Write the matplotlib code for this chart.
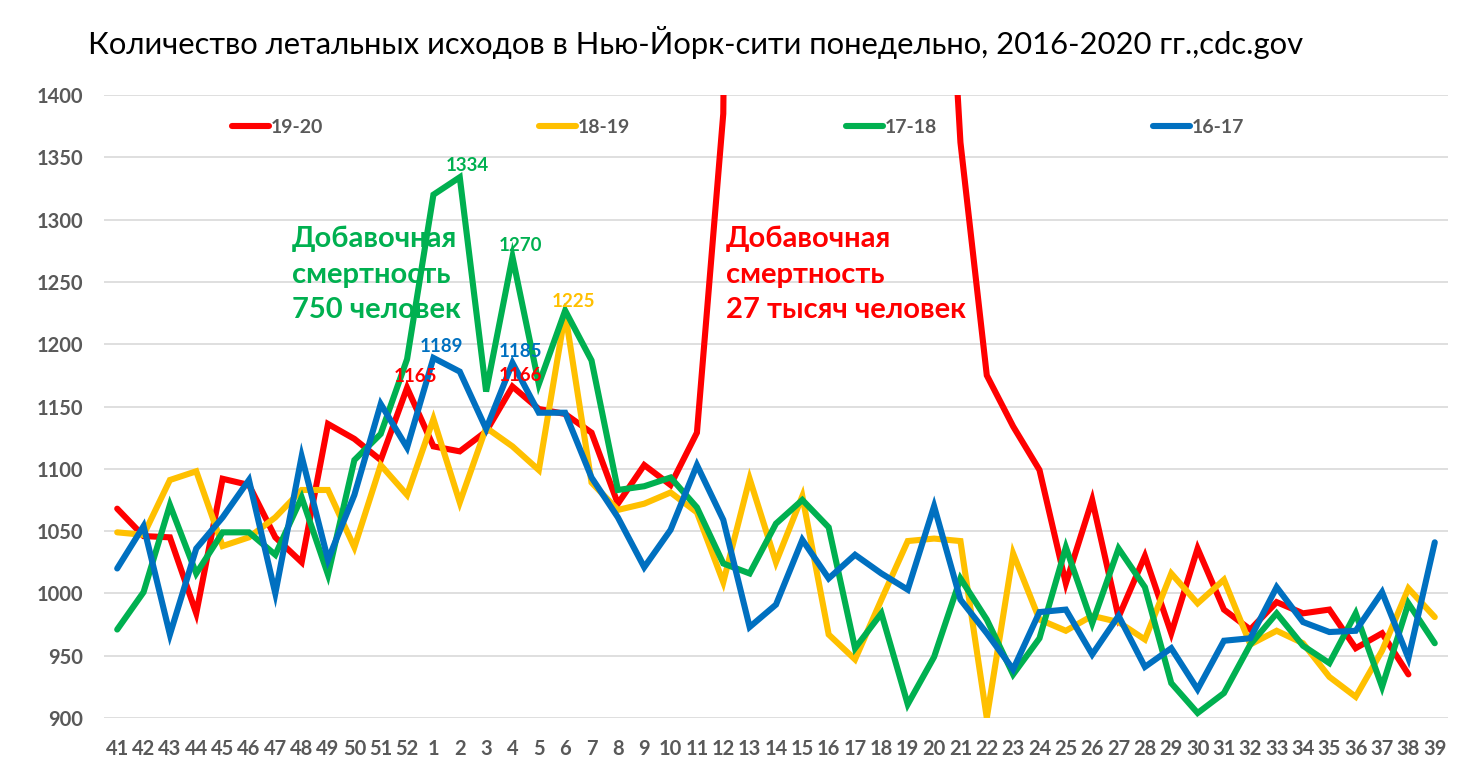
import numpy as np
import matplotlib.pyplot as plt

plt.rcParams['font.family'] = ['Lato', 'DejaVu Sans']

# недели: 41-52, затем 1-39
weeks = [str(w) for w in range(41, 53)] + [str(w) for w in range(1, 40)]

s1920 = [1068, 1046, 1045, 984, 1092, 1087, 1045, 1025, 1136, 1124, 1107, 1165,
         1118, 1114, 1130, 1166, 1148, 1144, 1129, 1072, 1103, 1087, 1129, 1385,
         3500, 7000, 7800, 6000, 4000, 2700, 2100, 1725, 1362, 1175, 1134, 1099,
         1008, 1075, 981, 1030, 968, 1036, 987, 971, 993, 984, 987, 956, 968, 935,
         np.nan]
s1819 = [1049, 1047, 1091, 1098, 1038, 1045, 1061, 1083, 1083, 1037, 1103, 1079,
         1140, 1073, 1133, 1118, 1099, 1225, 1089, 1067, 1072, 1081, 1065, 1009,
         1092, 1025, 1078, 967, 947, 995, 1042, 1044, 1042, 900, 1032, 979,
         970, 982, 977, 963, 1016, 992, 1011, 959, 970, 960, 933, 917, 954, 1004,
         981]
s1718 = [971, 1001, 1071, 1016, 1049, 1049, 1031, 1077, 1015, 1107, 1128, 1188,
         1320, 1334, 1162, 1270, 1168, 1227, 1187, 1083, 1086, 1093, 1069, 1024,
         1016, 1056, 1075, 1053, 956, 984, 911, 949, 1012, 979, 935, 964,
         1037, 976, 1036, 1005, 928, 904, 920, 959, 984, 958, 944, 984, 925, 992,
         960]
s1617 = [1020, 1054, 967, 1036, 1061, 1091, 1000, 1110, 1027, 1079, 1152, 1117,
         1189, 1178, 1132, 1185, 1145, 1145, 1093, 1061, 1021, 1051, 1103, 1059,
         973, 991, 1043, 1012, 1031, 1016, 1003, 1070, 995, 968, 939, 985,
         987, 951, 982, 941, 956, 923, 962, 964, 1005, 977, 969, 970, 1001, 948,
         1041]

series = [('19-20', s1920, '#FF0000'),
          ('18-19', s1819, '#FFC000'),
          ('17-18', s1718, '#00B050'),
          ('16-17', s1617, '#0070C0')]

# подписи значений: (серия, индекс недели)
point_labels = [(0, 11), (0, 15), (1, 17), (2, 13), (2, 15), (3, 12), (3, 15)]

fig = plt.figure(figsize=(14.84, 7.84), dpi=100)
ax = fig.add_axes([0.0701, 0.0842, 0.9056, 0.7946])

x = np.arange(len(weeks))
for name, vals, col in series:
    ax.plot(x, vals, color=col, lw=4.4, label=name, solid_capstyle='round',
            solid_joinstyle='miter')

for si, i in point_labels:
    name, vals, col = series[si]
    ax.annotate(str(vals[i]), (x[i], vals[i]), xytext=(8, 3),
                textcoords='offset pixels', ha='center', va='bottom',
                color=col, fontsize=13.5, fontweight='bold')

ax.set_xlim(-0.5, len(weeks) - 0.5)
ax.set_ylim(900, 1400)
ax.set_yticks(np.arange(900, 1401, 50))
ax.set_xticks(x)
ax.set_xticklabels(weeks)
ax.tick_params(axis='both', length=0, colors='#595959', labelsize=14.5)
ax.tick_params(axis='y', pad=15)
ax.tick_params(axis='x', pad=15)
for t in ax.get_xticklabels() + ax.get_yticklabels():
    t.set_fontweight('bold')
ax.grid(axis='y', color='#D9D9D9', lw=1.2)
ax.set_axisbelow(True)
for s in ax.spines.values():
    s.set_visible(False)

leg = ax.legend(loc='upper left', bbox_to_anchor=(0.0823, 0.99), ncol=4,
                frameon=False, handlelength=1.9, handletextpad=0.1,
                columnspacing=11.1, prop={'weight': 'bold', 'size': 14})
for t in leg.get_texts():
    t.set_color('#595959')

ax.text(6.63, 1256, 'Добавочная\nсмертность\n750 человек', color='#00B050',
        fontsize=21, fontweight='bold', va='center', ha='left', linespacing=1.45)
ax.text(23.1, 1256, 'Добавочная\nсмертность\n27 тысяч человек', color='#FF0000',
        fontsize=21, fontweight='bold', va='center', ha='left', linespacing=1.45)

fig.text(0.059, 0.946, 'Количество летальных исходов в Нью-Йорк-сити понедельно, 2016-2020 гг.,cdc.gov',
         fontsize=22.3, ha='left', va='center', color='black')

fig.savefig('out.png', dpi=100)
